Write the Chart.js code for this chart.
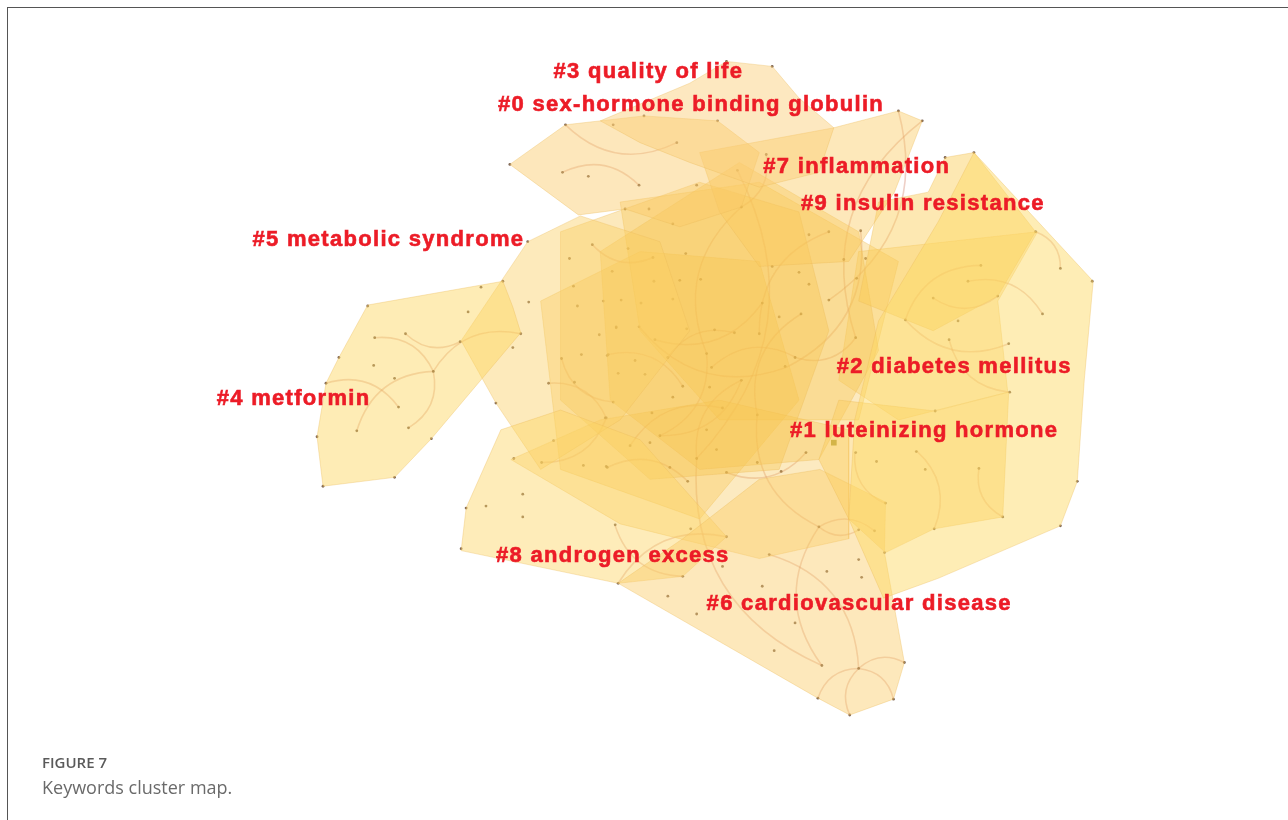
<!DOCTYPE html>
<html>
<head>
<meta charset="utf-8">
<title>Keywords cluster map</title>
<script src="https://cdn.jsdelivr.net/npm/chart.js@4.4.1/dist/chart.umd.min.js"></script>
<style>
  html, body { margin: 0; padding: 0; background: #fff; }
  #page { position: relative; width: 1288px; height: 820px; overflow: hidden; }
  #frame {
    position: absolute; left: 7px; top: 7px; right: 0; bottom: 0;
    border-left: 1px solid #555; border-top: 1px solid #555;
  }
  #map { position: absolute; left: 0; top: 0; }
  .fig-no {
    position: absolute; left: 42px; top: 752px;
    font: 600 15px "Open Sans", sans-serif; color: #5a5a5a;
  }
  .fig-title {
    position: absolute; left: 42px; top: 775px;
    font: 400 18px "Open Sans", sans-serif; color: #6a6a6a;
  }
</style>
</head>
<body>
<div id="page">
  <div id="frame"></div>
  <canvas id="map" width="1288" height="820"></canvas>
  <div class="fig-no">FIGURE 7</div>
  <div class="fig-title">Keywords cluster map.</div>
</div>
<script>
// cluster labels (layout coordinates of the map)
const clusterIds = ['#3', '#0', '#7', '#9', '#5', '#2', '#4', '#1', '#8', '#6'];
const clusterNames = ['quality of life', 'sex-hormone binding globulin', 'inflammation', 'insulin resistance',
  'metabolic syndrome', 'diabetes mellitus', 'metformin', 'luteinizing hormone', 'androgen excess',
  'cardiovascular disease'];
const labelX = [553, 497, 764, 802, 250, 838, 214, 791, 495, 707];
const labelY = [69, 102, 165, 202, 238, 367, 399, 431, 557, 606];

// cluster hulls (vertices in map coordinates)
const hullMetformin = [[366,304],[502,280],[512,306],[520,332],[430,439],[393,478],[321,487],[315,437],[324,383],[337,357]];
const hullDiabetes = [[976,150],[1096,280],[1087,380],[1080,482],[1063,527],[940,580],[885,600],[850,520],[856,420],[880,320],[940,220]];
const hullQuality = [[600,118],[690,80],[727,58],[773,63],[800,95],[835,125],[820,170],[760,185],[690,160],[640,140]];
const hullShbg = [[509,162],[565,122],[644,113],[718,118],[760,150],[742,205],[680,225],[625,207],[578,213]];
const hullInflammation = [[700,150],[835,125],[900,108],[924,118],[896,190],[850,260],[760,265],[720,210]];
const hullInsulin = [[880,200],[930,190],[947,155],[976,150],[1038,230],[1000,295],[935,330],[860,300]];
const hullLh = [[840,400],[937,411],[1011,392],[1005,518],[936,530],[887,554],[850,520],[820,460]];
const hullCvd = [[618,585],[683,540],[760,480],[821,470],[887,503],[886,554],[906,665],[895,702],[851,718],[819,701]];
const hullAndrogen = [[460,552],[465,509],[500,430],[560,410],[640,440],[727,538],[683,578],[618,585]];
const hullMetabolic = [[527,240],[580,214],[660,240],[690,330],[620,420],[540,470],[495,403],[460,340]];
const hullCoreA = [[560,230],[700,180],[800,210],[830,330],[780,470],[650,480],[560,400]];
const hullCoreB = [[600,250],[740,160],[860,230],[880,350],[820,460],[700,470],[610,400]];
const hullCoreC = [[510,460],[600,420],[720,400],[850,430],[850,540],[760,560],[620,525]];
const hullCoreD = [[540,300],[640,250],[760,260],[800,400],[700,520],[560,470]];
const hullCoreE = [[620,200],[760,180],[900,260],[860,420],[720,420],[640,330]];
const hullRightMid = [[860,250],[1040,230],[1000,300],[1010,392],[900,420],[840,380]];

// keyword nodes
const nodes = [
  [366,305],[480,286],[502,280],[467,311],[373,337],[404,333],[459,341],[337,357],[372,365],[432,371],
  [393,378],[324,383],[397,407],[355,431],[407,428],[430,439],[315,437],[393,478],[321,487],
  [528,301],[520,333],[512,347],[561,358],[548,383],[574,382],[495,403],[513,459],[541,463],[583,466],
  [606,467],[553,441],[522,495],[485,507],[465,509],[522,518],[615,526],[460,550],[573,285],[577,305],
  [603,300],[621,299],[599,334],[616,327],[581,354],[607,355],[613,402],[606,418],[630,446],
  [565,122],[613,122],[644,113],[677,140],[718,118],[509,162],[562,170],[588,174],[639,183],[697,183],
  [738,168],[742,205],[625,207],[649,207],[673,222],[527,240],[592,243],[628,247],[653,256],[686,252],
  [569,257],[612,270],[654,280],[680,279],[701,278],[773,265],[673,298],[641,302],[763,302],[773,63],[727,58],
  [900,108],[924,118],[767,152],[947,155],[976,150],[1038,230],[1063,267],[1095,280],[810,233],[830,230],
  [862,229],[800,271],[845,258],[867,257],[858,277],[810,283],[983,264],[970,280],[935,297],[1000,295],
  [830,299],[802,313],[907,319],[960,320],[1045,313],[857,337],[951,339],[1011,343],[796,357],[786,366],[1012,392],
  [780,316],[639,326],[616,326],[687,328],[715,329],[735,332],[760,333],[655,339],[707,353],[608,354],
  [635,360],[668,357],[645,374],[618,373],[712,367],[742,380],[683,386],[710,387],[673,397],[723,408],
  [758,415],[652,413],[605,418],[707,430],[660,436],[650,443],[697,459],[717,450],[607,468],[670,468],
  [727,473],[758,463],[782,472],[807,453],[857,453],[878,462],[918,452],[927,470],[688,482],[887,504],
  [936,530],[691,530],[727,538],[820,528],[860,531],[876,532],[770,556],[860,561],[828,573],[937,411],
  [981,469],[1080,482],[1005,518],[1063,527],[886,554],
  [723,568],[683,578],[763,588],[618,585],[668,598],[697,616],[796,625],[775,653],[823,668],[860,671],
  [906,665],[819,701],[895,702],[851,718],[863,579]
];
const hubNodes = [[835,443]];

// co-occurrence links (pairs of node positions)
const links = [
  [432,371,355,431],[432,371,407,428],[432,371,373,337],[432,371,520,333],[397,407,324,383],[459,341,404,333],
  [561,358,613,402],[548,383,606,418],[742,205,707,353],[738,168,697,459],[830,230,760,333],[862,229,787,367],
  [983,264,907,319],[970,280,1045,313],[935,297,1000,295],[1038,230,1063,267],[907,319,1011,343],[857,337,796,357],
  [797,357,712,367],[787,367,639,326],[683,386,608,354],[668,357,735,332],[660,436,742,380],[630,446,723,408],
  [727,473,807,453],[820,528,758,415],[820,528,860,531],[820,528,876,532],[820,528,823,668],[860,671,906,665],
  [860,671,819,701],[860,671,895,702],[860,671,851,718],[823,668,697,459],[860,671,770,556],[918,451,936,530],
  [856,453,888,505],[683,578,615,527],[727,538,618,585],[900,108,830,299],[924,118,857,337],[767,152,742,205],
  [565,122,677,140],[562,170,639,183],[592,243,653,256],[707,353,660,436],[742,380,697,459],[763,302,655,339],
  [802,313,758,415],[1012,392,951,339],[981,469,1005,518],[607,468,688,482],[541,463,606,418]
];

const hulls = [hullMetformin, hullDiabetes, hullQuality, hullShbg, hullInflammation, hullInsulin, hullLh,
  hullCvd, hullAndrogen, hullMetabolic, hullCoreA, hullCoreB, hullCoreC, hullCoreD, hullCoreE, hullRightMid];
const hullColors = ['rgba(252,212,90,0.45)', 'rgba(252,218,100,0.48)', 'rgba(250,205,115,0.45)',
  'rgba(250,202,105,0.45)', 'rgba(250,200,90,0.42)', 'rgba(251,205,85,0.45)', 'rgba(251,205,90,0.45)',
  'rgba(251,205,105,0.45)', 'rgba(252,212,100,0.45)', 'rgba(251,208,100,0.44)', 'rgba(248,198,80,0.38)',
  'rgba(248,198,80,0.38)', 'rgba(248,198,80,0.36)', 'rgba(248,198,80,0.36)', 'rgba(248,198,80,0.36)',
  'rgba(250,206,90,0.36)'];

const toXY = (p) => ({ x: p[0], y: p[1] });

const datasets = hulls.map((h, i) => ({
  data: h.concat([h[0]]).map(toXY),
  showLine: true,
  fill: 'shape',
  backgroundColor: hullColors[i],
  borderColor: 'rgba(235,185,90,0.35)',
  borderWidth: 1,
  pointRadius: 0,
  tension: 0
}));

datasets.push({
  data: nodes.map(toXY),
  pointRadius: 1.4,
  backgroundColor: 'rgba(95,65,45,0.8)',
  borderWidth: 0
});
datasets.push({
  data: hubNodes.map(toXY),
  pointStyle: 'rect',
  pointRadius: 4,
  backgroundColor: 'rgba(130,130,20,0.9)',
  borderWidth: 0
});
const nodeIndex = hulls.length;

// links go under the node dots, curved like the CiteSpace arcs
const linkLayer = {
  id: 'linkLayer',
  beforeDatasetDraw(chart, args) {
    if (args.index !== nodeIndex) return;
    const { ctx, scales: { x, y } } = chart;
    ctx.save();
    ctx.strokeStyle = 'rgba(205,120,95,0.35)';
    ctx.lineWidth = 1.6;
    links.forEach((l, i) => {
      const x1 = x.getPixelForValue(l[0]), y1 = y.getPixelForValue(l[1]);
      const x2 = x.getPixelForValue(l[2]), y2 = y.getPixelForValue(l[3]);
      const side = i % 2 ? 1 : -1;
      const cx = (x1 + x2) / 2 + side * (y2 - y1) * 0.35;
      const cy = (y1 + y2) / 2 - side * (x2 - x1) * 0.35;
      ctx.beginPath();
      ctx.moveTo(x1, y1);
      ctx.quadraticCurveTo(cx, cy, x2, y2);
      ctx.stroke();
    });
    ctx.restore();
  }
};

const clusterLabels = {
  id: 'clusterLabels',
  afterDatasetsDraw(chart) {
    const { ctx, scales: { x, y } } = chart;
    ctx.save();
    ctx.font = 'bold 22px "Liberation Sans", Arial, sans-serif';
    ctx.letterSpacing = '1.3px';
    ctx.textBaseline = 'middle';
    ctx.fillStyle = '#ec1c27';
    ctx.strokeStyle = '#ec1c27';
    ctx.lineWidth = 0.6;
    clusterIds.forEach((id, i) => {
      const text = id + ' ' + clusterNames[i];
      const px = x.getPixelForValue(labelX[i]), py = y.getPixelForValue(labelY[i]);
      ctx.fillText(text, px, py);
      ctx.strokeText(text, px, py);
    });
    ctx.restore();
  }
};

new Chart(document.getElementById('map'), {
  type: 'scatter',
  data: { datasets },
  options: {
    responsive: false,
    animation: false,
    devicePixelRatio: 1,
    layout: { padding: 0 },
    scales: {
      x: { type: 'linear', min: 0, max: 1288, display: false },
      y: { type: 'linear', min: 0, max: 820, reverse: true, display: false }
    },
    plugins: {
      legend: { display: false },
      tooltip: { enabled: false }
    }
  },
  plugins: [linkLayer, clusterLabels]
});
</script>
</body>
</html>
